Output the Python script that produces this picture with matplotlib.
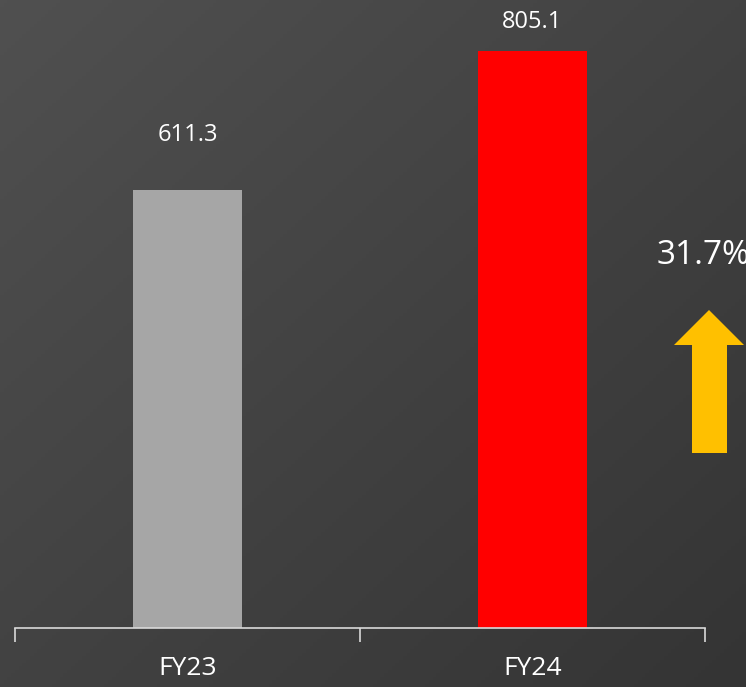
import numpy as np
import matplotlib
matplotlib.use("Agg")
import matplotlib.pyplot as plt
from matplotlib.patches import Polygon

# data
years = ['FY23', 'FY24']
values = [611.3, 805.1]
bar_colors = ['#A6A6A6', '#FF0000']
growth_label = '31.7%'

# label gap above each bar (pixels)
label_gap = [55, 29]

plt.rcParams['font.family'] = ['Open Sans', 'DejaVu Sans']

W, H = 746, 687
fig = plt.figure(figsize=(W / 100, H / 100), dpi=100)

# background: diagonal grey gradient + overlay for the arrow
bg = fig.add_axes([0, 0, 1, 1], zorder=0)
gx, gy = np.meshgrid(np.linspace(0, 1, 200), np.linspace(0, 1, 200))
grad = (gx + gy) / 2
cmap = matplotlib.colors.LinearSegmentedColormap.from_list('g', ['#505050', '#343434'])
bg.imshow(grad, extent=[0, W, H, 0], cmap=cmap, aspect='auto')
bg.set_xlim(0, W)
bg.set_ylim(H, 0)
bg.axis('off')

# growth arrow
arrow = [(692, 453), (692, 345), (674, 345), (709, 310), (744, 345), (727, 345), (727, 453)]
bg.add_patch(Polygon(arrow, closed=True, facecolor='#FFC000', edgecolor='none'))
bg.text(657, 256, growth_label, color='white', fontsize=24, ha='left', va='center')

# main chart
ax = fig.add_axes([15 / W, (H - 628) / H, 690 / W, 628 / H], zorder=1)
ax.patch.set_alpha(0)
x = np.arange(len(years))
ax.bar(x, values, width=0.316, color=bar_colors, zorder=2)
for xi, v, g in zip(x, values, label_gap):
    ax.annotate(f'{v:.1f}', (xi, v), xytext=(0, g), textcoords='offset pixels',
                ha='center', va='center', color='white', fontsize=17)

ax.set_xlim(-0.5, 1.5)
ax.set_ylim(0, 876.5)
ax.set_yticks([])
for s in ['top', 'right', 'left']:
    ax.spines[s].set_visible(False)
ax.spines['bottom'].set_color('#D9D9D9')
ax.spines['bottom'].set_linewidth(1.2)
ax.set_xticks(x)
ax.set_xticklabels(years, color='white', fontsize=19)
ax.tick_params(axis='x', which='major', length=0, pad=20)
ax.set_xticks([-0.5, 0.5, 1.5], minor=True)
ax.tick_params(axis='x', which='minor', length=10, width=1.2, color='#D9D9D9')

fig.savefig('out.png', dpi=100)
